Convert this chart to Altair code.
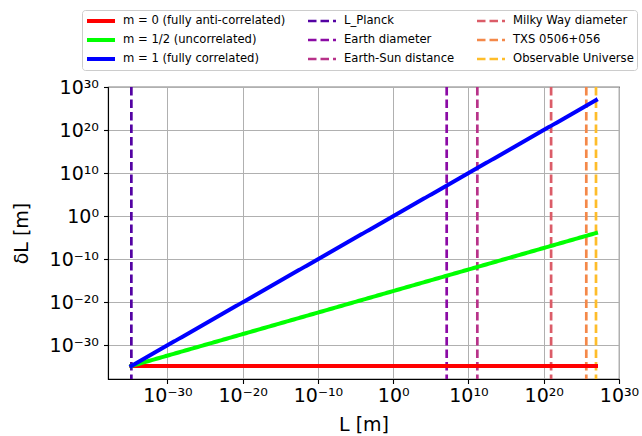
import altair as alt
import pandas as pd

# ---- data ----
line_names = ["m = 0 (fully anti-correlated)", "m = 1/2 (uncorrelated)", "m = 1 (fully correlated)"]
L_points = [1.6e-35, 8.8e26]
dL_m0 = [1.6e-35, 1.6e-35]
dL_m_half = [1.6e-35, 1.2e-4]
dL_m1 = [1.6e-35, 8.8e26]

scale_names = ["L_Planck", "Earth diameter", "Earth-Sun distance",
               "Milky Way diameter", "TXS 0506+056", "Observable Universe"]
scale_lengths = [1.6e-35, 1.27e7, 1.5e11, 9.5e20, 4.5e25, 8.8e26]

line_colors = ["#ff0000", "#00ff00", "#0000ff"]
scale_colors = ["#5402a3", "#8b0aa5", "#b83289", "#db5c68", "#f48849", "#febd2a"]

tick_values = [1e-30, 1e-20, 1e-10, 1e0, 1e10, 1e20, 1e30]

# ---- tables ----
rows = []
for name, ys in zip(line_names, [dL_m0, dL_m_half, dL_m1]):
    for x, y in zip(L_points, ys):
        rows.append({"series": name, "L": x, "dL": y})
lines_df = pd.DataFrame(rows)
rules_df = pd.DataFrame({"series": scale_names, "L": scale_lengths})

order = line_names + scale_names
style = {}
for n, c in zip(line_names, line_colors):
    style[n] = (c, [1, 0], 4)
for n, c in zip(scale_names, scale_colors):
    style[n] = (c, [8.5, 4], 2.7)
color_range = [style[n][0] for n in order]
dash_range = [style[n][1] for n in order]
width_range = [style[n][2] for n in order]

sup = {"0": "⁰", "1": "¹", "2": "²", "3": "³", "4": "⁴", "5": "⁵",
       "6": "⁶", "7": "⁷", "8": "⁸", "9": "⁹", "-": "⁻"}
expr = "toString(round(log(datum.value)/LN10))"
for k, v in sup.items():
    expr = f"replace({expr}, regexp('{k}', 'g'), '{v}')"
label_expr = "'10' + " + expr

legend = alt.Legend(
    title=None, orient="none", legendX=-26, legendY=-77, columns=3,
    symbolType="stroke", symbolSize=784, labelFontSize=11.6, labelFont="DejaVu Sans",
    labelColor="black", strokeColor="#cccccc", fillColor="white", cornerRadius=3,
    padding=3, clipHeight=16, rowPadding=3, columnPadding=20, labelOffset=6,
    labelLimit=0, symbolOpacity=1,
)

x_axis = alt.Axis(values=tick_values, labelExpr=label_expr, title="L [m]", grid=True,
                  labelFontSize=19, titleFontSize=19, titleFontWeight="normal",
                  tickSize=4.5, labelPadding=3, titlePadding=10, labelFlush=False,
                  labelOverlap=False)
y_axis = alt.Axis(values=tick_values, labelExpr=label_expr, title="δL [m]", grid=True,
                  labelFontSize=19, titleFontSize=19, titleFontWeight="normal",
                  tickSize=4.5, labelPadding=5, titlePadding=18, labelFlush=False,
                  labelOverlap=False)

x_scale = alt.Scale(type="log", domain=[10 ** -37.9, 1e30], nice=False)
y_scale = alt.Scale(type="log", domain=[10 ** -37.83, 1e30], nice=False)

enc_common = dict(
    color=alt.Color("series:N", scale=alt.Scale(domain=order, range=color_range), legend=legend),
    strokeDash=alt.StrokeDash("series:N", scale=alt.Scale(domain=order, range=dash_range), legend=legend),
    strokeWidth=alt.StrokeWidth("series:N", scale=alt.Scale(type="ordinal", domain=order, range=width_range), legend=legend),
)

rules = alt.Chart(rules_df).mark_rule(strokeCap="butt").encode(
    x=alt.X("L:Q", scale=x_scale, axis=x_axis),
    **enc_common,
)

lines = alt.Chart(lines_df).mark_line(strokeCap="square").encode(
    x=alt.X("L:Q", scale=x_scale, axis=x_axis),
    y=alt.Y("dL:Q", scale=y_scale, axis=y_axis),
    order=alt.Order("L:Q"),
    **enc_common,
)

chart = alt.layer(rules, lines).properties(
    width=511, height=292,
    autosize=alt.AutoSizeParams(type="none"),
    padding={"left": 108, "top": 87, "right": 23, "bottom": 57},
).configure(font="DejaVu Sans").configure_view(
    stroke="black", strokeWidth=1.1
).configure_axis(
    domainColor="black", domainWidth=1.1, tickColor="black", tickWidth=1.1,
    labelColor="black", titleColor="black", gridColor="#b0b0b0", gridWidth=1,
    gridOpacity=1, labelFont="DejaVu Sans", titleFont="DejaVu Sans",
)

chart.save("out.html", embed_options={"renderer": "svg", "actions": False})
